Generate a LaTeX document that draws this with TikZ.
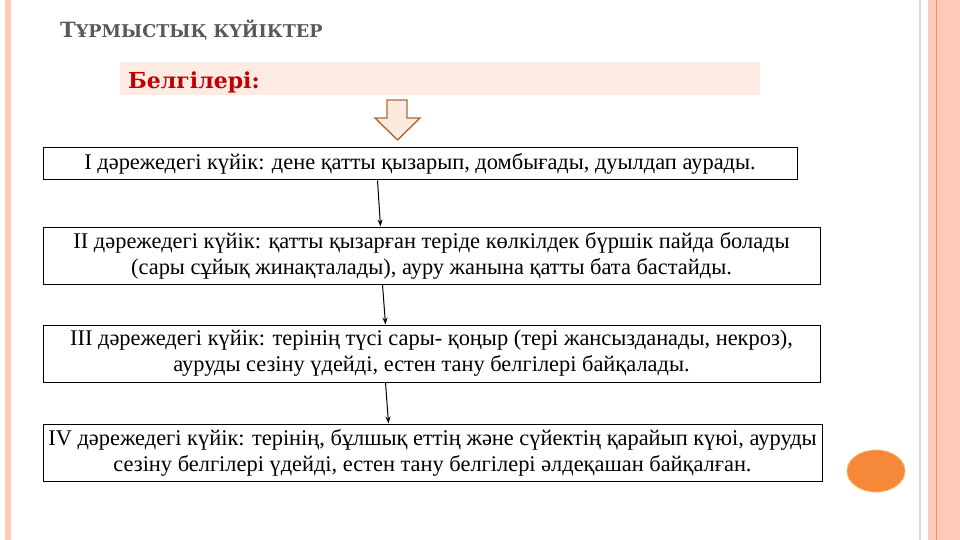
\documentclass[tikz,border=0pt]{standalone}
\usepackage{fontspec}
\setmainfont{Liberation Serif}
\newfontfamily\headfont{DejaVu Serif}
\usetikzlibrary{arrows.meta}
\definecolor{bandpink}{HTML}{FCCAB6}
\definecolor{bandline}{HTML}{E89468}
\definecolor{tanline}{HTML}{E6D6C6}
\definecolor{headfill}{HTML}{FDEAE2}
\definecolor{titlegray}{HTML}{595959}
\definecolor{redtxt}{HTML}{C00000}
\definecolor{arrowfill}{HTML}{FDEADF}
\definecolor{arrowdraw}{HTML}{B0683A}
\definecolor{dotorange}{HTML}{F6883A}
\tikzset{
  stepbox/.style={draw=black, line width=1pt, fill=white, inner sep=0pt, align=center, font=\fontsize{22.4}{26}\selectfont},
  conn/.style={-{Stealth[length=7pt,width=5pt]}, line width=1pt, black}
}
\begin{document}
\begin{tikzpicture}[x=1pt,y=-1pt]
\useasboundingbox (0,0) rectangle (960,540);
\fill[white] (0,0) rectangle (960,540);
% left stripe
\fill[bandpink] (5,0) rectangle (11,540);
% right bands
\fill[tanline] (918.5,0) rectangle (921,540);
\fill[bandpink] (928,0) rectangle (960,540);
\draw[bandline, line width=0.8pt] (936,0) -- (936,540);
% title
\node[anchor=base west, text=titlegray, font=\headfont\bfseries\fontsize{21}{24}\selectfont, inner sep=0pt] (title) at (60,38)
  {Т{\fontsize{17.6}{20}\selectfont ҰРМЫСТЫҚ КҮЙІКТЕР}};
% header band
\fill[headfill] (120,62) rectangle (760,95);
\node[anchor=base west, text=redtxt, font=\headfont\bfseries\fontsize{22}{26}\selectfont, inner sep=0pt] (head) at (128,89) {Белгілері:};
% block arrow
\draw[fill=arrowfill, draw=arrowdraw, line width=1.4pt, line join=miter]
  (387,100) -- (407,100) -- (407,118) -- (420,118) -- (397.5,140) -- (375,118) -- (387,118) -- cycle;
% boxes
\node[stepbox, minimum width=754pt, minimum height=32pt] (b1) at (420,164)
  {I дәрежедегі күйік: дене қатты қызарып, домбығады, дуылдап аурады.};
\node[stepbox, minimum width=777pt, minimum height=57pt] (b2) at (431.5,255.5)
  {II дәрежедегі күйік: қатты қызарған теріде көлкілдек бүршік пайда болады\\(сары сұйық жинақталады), ауру жанына қатты бата бастайды.};
\node[stepbox, minimum width=777pt, minimum height=57pt] (b3) at (431.5,353.5)
  {III дәрежедегі күйік: терінің түсі сары- қоңыр (тері жансызданады, некроз),\\ауруды сезіну үдейді, естен тану белгілері байқалады.};
\node[stepbox, minimum width=779pt, minimum height=57pt] (b4) at (432.5,452.5)
  {IV дәрежедегі күйік: терінің, бұлшық еттің және сүйектің қарайып күюі, ауруды\\сезіну белгілері үдейді, естен тану белгілері әлдеқашан байқалған.};
% connectors
\draw[conn] ([xshift=335pt]b1.south west) -- ([xshift=338pt]b2.north west);
\draw[conn] ([xshift=340pt]b2.south west) -- ([xshift=343pt]b3.north west);
\draw[conn] ([xshift=343pt]b3.south west) -- ([xshift=346pt]b4.north west);
% orange dot
\fill[dotorange, draw=orange!60!white, line width=0.8pt] (876,471) ellipse [x radius=29, y radius=21];
\end{tikzpicture}
\end{document}
